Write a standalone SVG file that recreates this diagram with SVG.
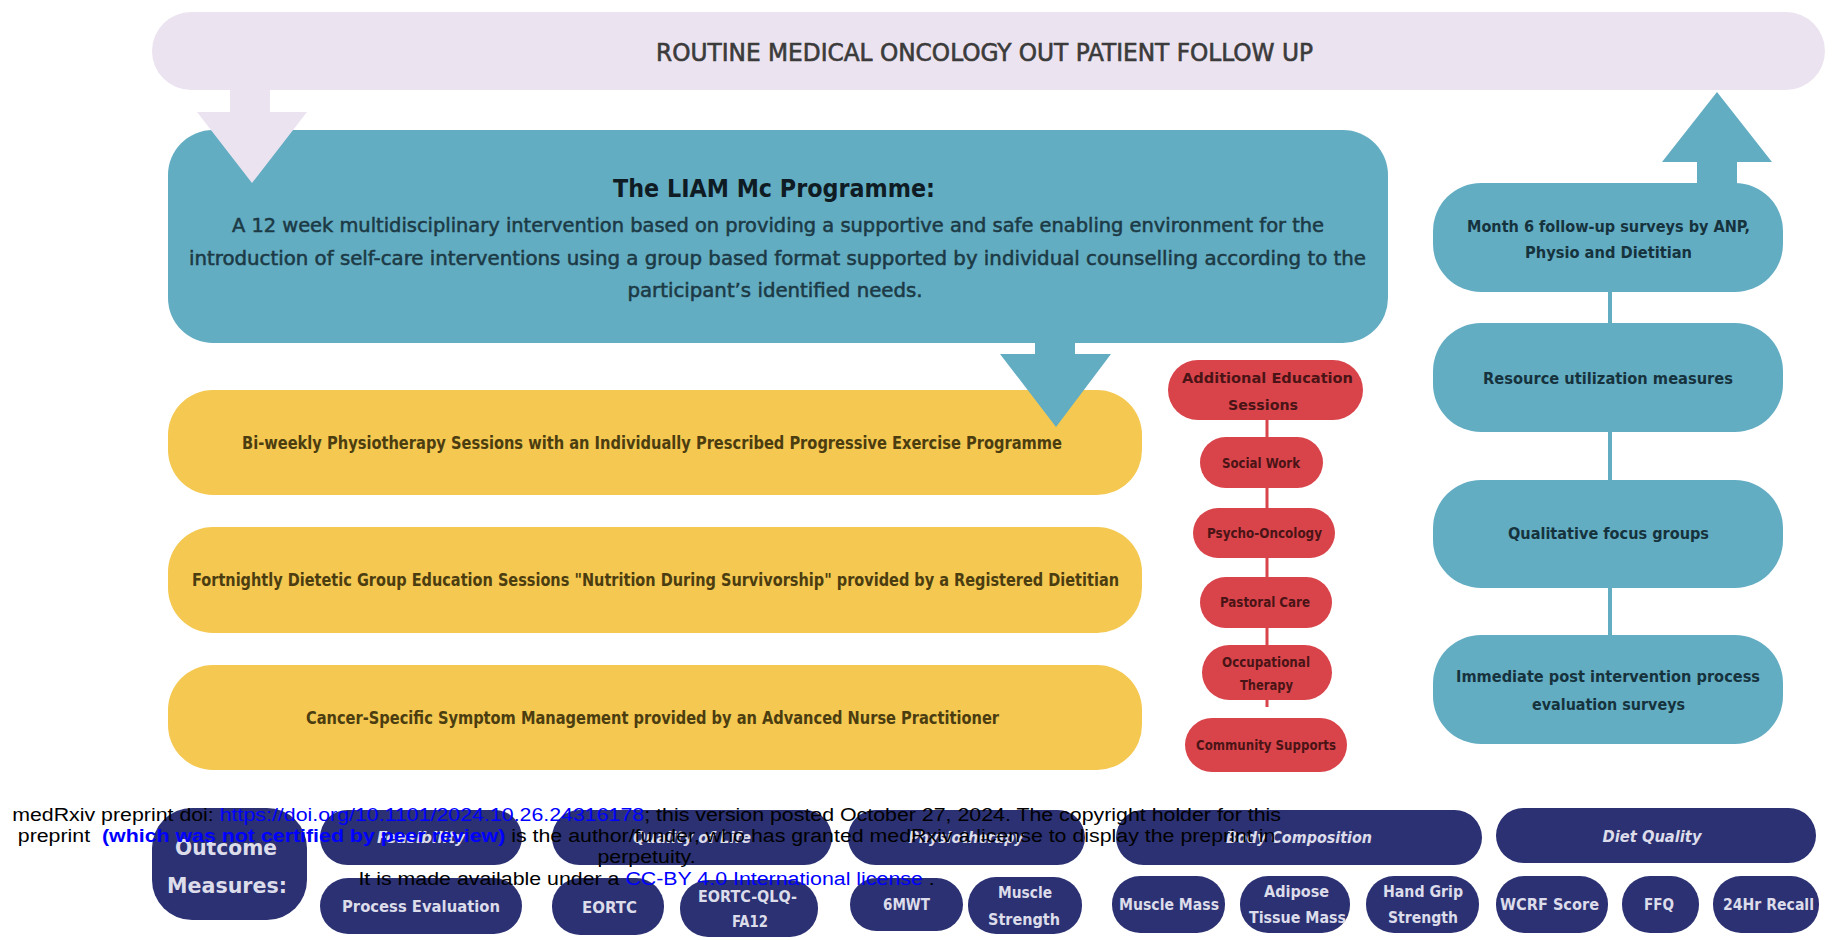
<svg xmlns="http://www.w3.org/2000/svg" width="1834" height="940" viewBox="0 0 1834 940">
<style>
.lav{fill:#ece3f0}
.blue{fill:#63adc3}
.yel{fill:#f4c851}
.red{fill:#d9444b}
.navy{fill:#2b3172}
text{font-family:"DejaVu Sans Condensed","DejaVu Sans",sans-serif;text-anchor:middle}
.ban{font-size:25px;fill:#3b3b3b;stroke:#3b3b3b;stroke-width:0.6px}
.ttl{font-size:25px;font-weight:bold;fill:#0f1c24}
.body{font-size:20px;fill:#1c3a45;stroke:#1c3a45;stroke-width:0.5px}
.ytx{font-size:17px;font-weight:bold;fill:#4b3d10}
.rtx{font-size:14px;font-weight:bold;fill:#4a1416}
.btx{font-size:16.5px;font-weight:bold;fill:#16333d}
.ntx{font-size:16px;font-weight:bold;fill:#dcdcea}
.nit{font-size:16px;font-weight:bold;font-style:italic;fill:#dcdcea}
.nbig{font-size:22px;font-weight:bold;fill:#dcdcea}
.ov{font-family:"Liberation Sans",Arial,sans-serif;font-size:18.6px;fill:#000;stroke:none}
.lnk{fill:#0000ff}
</style>
<rect width="1834" height="940" fill="#ffffff"/>

<g id="routine-followup">
<rect class="lav" x="152" y="12" width="1673" height="78" rx="39"/>
<text class="ban" x="984.5" y="61" textLength="657" lengthAdjust="spacingAndGlyphs">ROUTINE MEDICAL ONCOLOGY OUT PATIENT FOLLOW UP</text>
</g>

<g id="liam-programme">
<rect class="blue" x="168" y="130" width="1220" height="213" rx="45"/>
<text class="ttl" x="774" y="197" textLength="322" lengthAdjust="spacingAndGlyphs">The LIAM Mc Programme:</text>
<text class="body" x="778" y="232" textLength="1092" lengthAdjust="spacingAndGlyphs">A 12 week multidisciplinary intervention based on providing a supportive and safe enabling environment for the</text>
<text class="body" x="777.5" y="265" textLength="1177" lengthAdjust="spacingAndGlyphs">introduction of self-care interventions using a group based format supported by individual counselling according to the</text>
<text class="body" x="775" y="297" textLength="295" lengthAdjust="spacingAndGlyphs">participant’s identified needs.</text>
</g>

<g id="physio">
<rect class="yel" x="168" y="390" width="974" height="105" rx="45"/>
<text class="ytx" x="652" y="449" textLength="820" lengthAdjust="spacingAndGlyphs">Bi-weekly Physiotherapy Sessions with an Individually Prescribed Progressive Exercise Programme</text>
</g>
<g id="dietetic">
<rect class="yel" x="168" y="527" width="974" height="106" rx="45"/>
<text class="ytx" x="655.5" y="586" textLength="927" lengthAdjust="spacingAndGlyphs">Fortnightly Dietetic Group Education Sessions "Nutrition During Survivorship" provided by a Registered Dietitian</text>
</g>
<g id="symptom">
<rect class="yel" x="168" y="665" width="974" height="105" rx="45"/>
<text class="ytx" x="652.5" y="724" textLength="693" lengthAdjust="spacingAndGlyphs">Cancer-Specific Symptom Management provided by an Advanced Nurse Practitioner</text>
</g>

<g id="connectors">
<polygon class="lav" points="230,88 270,88 270,112 307,112 252,183 197,112 230,112"/>
<polygon class="blue" points="1035,340 1075,340 1075,354 1111,354 1056,427 1000,354 1035,354"/>
<polygon class="blue" points="1717,92 1772,162 1737,162 1737,186 1697,186 1697,162 1662,162"/>
<line x1="1267" y1="418" x2="1267" y2="707" stroke="#d9444b" stroke-width="3"/>
<line x1="1610" y1="290" x2="1610" y2="637" stroke="#63adc3" stroke-width="4"/>
</g>

<g id="additional-education">
<rect class="red" x="1168" y="360" width="195" height="60" rx="30"/>
<text class="rtx" x="1267.5" y="383" textLength="171" lengthAdjust="spacingAndGlyphs">Additional Education</text>
<text class="rtx" x="1263" y="410" textLength="70" lengthAdjust="spacingAndGlyphs">Sessions</text>
</g>
<g id="social-work">
<rect class="red" x="1200" y="437" width="123" height="51" rx="25.5"/>
<text class="rtx" x="1261" y="468" textLength="78" lengthAdjust="spacingAndGlyphs">Social Work</text>
</g>
<g id="psycho-oncology">
<rect class="red" x="1193" y="508" width="142" height="50" rx="25"/>
<text class="rtx" x="1264.5" y="538" textLength="115" lengthAdjust="spacingAndGlyphs">Psycho-Oncology</text>
</g>
<g id="pastoral-care">
<rect class="red" x="1200" y="577" width="132" height="51" rx="25.5"/>
<text class="rtx" x="1265" y="607" textLength="90" lengthAdjust="spacingAndGlyphs">Pastoral Care</text>
</g>
<g id="occupational-therapy">
<rect class="red" x="1202" y="645" width="130" height="55" rx="27.5"/>
<text class="rtx" x="1266" y="667" textLength="88" lengthAdjust="spacingAndGlyphs">Occupational</text>
<text class="rtx" x="1266.5" y="690" textLength="53" lengthAdjust="spacingAndGlyphs">Therapy</text>
</g>
<g id="community-supports">
<rect class="red" x="1185" y="718" width="162" height="54" rx="27"/>
<text class="rtx" x="1266" y="750" textLength="140" lengthAdjust="spacingAndGlyphs">Community Supports</text>
</g>

<g id="month6">
<rect class="blue" x="1433" y="183" width="350" height="109" rx="48"/>
<text class="btx" x="1608.5" y="232" textLength="283" lengthAdjust="spacingAndGlyphs">Month 6 follow-up surveys by ANP,</text>
<text class="btx" x="1608.5" y="258" textLength="167" lengthAdjust="spacingAndGlyphs">Physio and Dietitian</text>
</g>
<g id="resource">
<rect class="blue" x="1433" y="323" width="350" height="109" rx="48"/>
<text class="btx" x="1608" y="384" textLength="250" lengthAdjust="spacingAndGlyphs">Resource utilization measures</text>
</g>
<g id="focus-groups">
<rect class="blue" x="1433" y="480" width="350" height="108" rx="48"/>
<text class="btx" x="1608.5" y="539" textLength="201" lengthAdjust="spacingAndGlyphs">Qualitative focus groups</text>
</g>
<g id="post-intervention">
<rect class="blue" x="1433" y="635" width="350" height="109" rx="48"/>
<text class="btx" x="1608" y="682" textLength="304" lengthAdjust="spacingAndGlyphs">Immediate post intervention process</text>
<text class="btx" x="1608.5" y="710" textLength="153" lengthAdjust="spacingAndGlyphs">evaluation surveys</text>
</g>

<g id="outcome-measures">
<rect class="navy" x="152" y="808" width="155" height="112" rx="40"/>
<text class="nbig" x="226" y="855" textLength="102" lengthAdjust="spacingAndGlyphs">Outcome</text>
<text class="nbig" x="227" y="893" textLength="120" lengthAdjust="spacingAndGlyphs">Measures:</text>
</g>
<g id="feasibility">
<rect class="navy" x="320" y="810" width="202" height="55" rx="27.5"/>
<text class="nit" x="421" y="843" textLength="88" lengthAdjust="spacingAndGlyphs">Feasibility</text>
</g>
<g id="quality-of-life">
<rect class="navy" x="552" y="810" width="280" height="55" rx="27.5"/>
<text class="nit" x="692" y="843" textLength="118" lengthAdjust="spacingAndGlyphs">Quality of Life</text>
</g>
<g id="physiotherapy">
<rect class="navy" x="848" y="810" width="237" height="55" rx="27.5"/>
<text class="nit" x="966" y="843" textLength="115" lengthAdjust="spacingAndGlyphs">Physiotherapy</text>
</g>
<g id="body-composition">
<rect class="navy" x="1116" y="810" width="366" height="55" rx="27.5"/>
<text class="nit" x="1299" y="843" textLength="146" lengthAdjust="spacingAndGlyphs">Body Composition</text>
</g>
<g id="diet-quality">
<rect class="navy" x="1496" y="808" width="320" height="55" rx="27.5"/>
<text class="nit" x="1652" y="842" textLength="99" lengthAdjust="spacingAndGlyphs">Diet Quality</text>
</g>

<g id="process-evaluation">
<rect class="navy" x="320" y="878" width="202" height="56" rx="28"/>
<text class="ntx" x="421" y="912" textLength="158" lengthAdjust="spacingAndGlyphs">Process Evaluation</text>
</g>
<g id="eortc">
<rect class="navy" x="552" y="878" width="112" height="57" rx="28"/>
<text class="ntx" x="609.5" y="913" textLength="55" lengthAdjust="spacingAndGlyphs">EORTC</text>
</g>
<g id="eortc-qlq-fa12">
<rect class="navy" x="680" y="880" width="138" height="57" rx="28"/>
<text class="ntx" x="747.5" y="902" textLength="99" lengthAdjust="spacingAndGlyphs">EORTC-QLQ-</text>
<text class="ntx" x="750" y="927" textLength="36" lengthAdjust="spacingAndGlyphs">FA12</text>
</g>
<g id="6mwt">
<rect class="navy" x="850" y="878" width="113" height="53" rx="26.5"/>
<text class="ntx" x="906.5" y="910" textLength="47" lengthAdjust="spacingAndGlyphs">6MWT</text>
</g>
<g id="muscle-strength">
<rect class="navy" x="968" y="877" width="114" height="57" rx="28"/>
<text class="ntx" x="1025" y="898" textLength="54" lengthAdjust="spacingAndGlyphs">Muscle</text>
<text class="ntx" x="1024" y="925" textLength="72" lengthAdjust="spacingAndGlyphs">Strength</text>
</g>
<g id="muscle-mass">
<rect class="navy" x="1112" y="876" width="113" height="57" rx="28"/>
<text class="ntx" x="1169" y="910" textLength="100" lengthAdjust="spacingAndGlyphs">Muscle Mass</text>
</g>
<g id="adipose">
<rect class="navy" x="1240" y="876" width="110" height="57" rx="28"/>
<text class="ntx" x="1296.5" y="897" textLength="65" lengthAdjust="spacingAndGlyphs">Adipose</text>
<text class="ntx" x="1297.5" y="923" textLength="97" lengthAdjust="spacingAndGlyphs">Tissue Mass</text>
</g>
<g id="hand-grip">
<rect class="navy" x="1366" y="876" width="113" height="57" rx="28"/>
<text class="ntx" x="1423" y="897" textLength="80" lengthAdjust="spacingAndGlyphs">Hand Grip</text>
<text class="ntx" x="1423" y="923" textLength="70" lengthAdjust="spacingAndGlyphs">Strength</text>
</g>
<g id="wcrf">
<rect class="navy" x="1496" y="876" width="112" height="57" rx="28"/>
<text class="ntx" x="1549.5" y="910" textLength="99" lengthAdjust="spacingAndGlyphs">WCRF Score</text>
</g>
<g id="ffq">
<rect class="navy" x="1622" y="876" width="77" height="57" rx="28"/>
<text class="ntx" x="1659" y="910" textLength="30" lengthAdjust="spacingAndGlyphs">FFQ</text>
</g>
<g id="recall">
<rect class="navy" x="1713" y="876" width="106" height="57" rx="28"/>
<text class="ntx" x="1768.5" y="910" textLength="91" lengthAdjust="spacingAndGlyphs">24Hr Recall</text>
</g>

<g id="medrxiv-notice" transform="matrix(1.148 0 0 1 0 0)">
<text class="ov" x="563.2" y="821">medRxiv preprint doi: <tspan class="lnk">https://doi.org/10.1101/2024.10.26.24316178</tspan>; this version posted October 27, 2024. The copyright holder for this</text>
<text class="ov" x="563.2" y="842" xml:space="preserve">preprint  <tspan class="lnk" font-weight="bold">(which was not certified by peer review)</tspan> is the author/funder, who has granted medRxiv a license to display the preprint in</text>
<text class="ov" x="563.2" y="863">perpetuity.</text>
<text class="ov" x="563.2" y="885">It is made available under a <tspan class="lnk">CC-BY 4.0 International license</tspan> .</text>
</g>
</svg>
